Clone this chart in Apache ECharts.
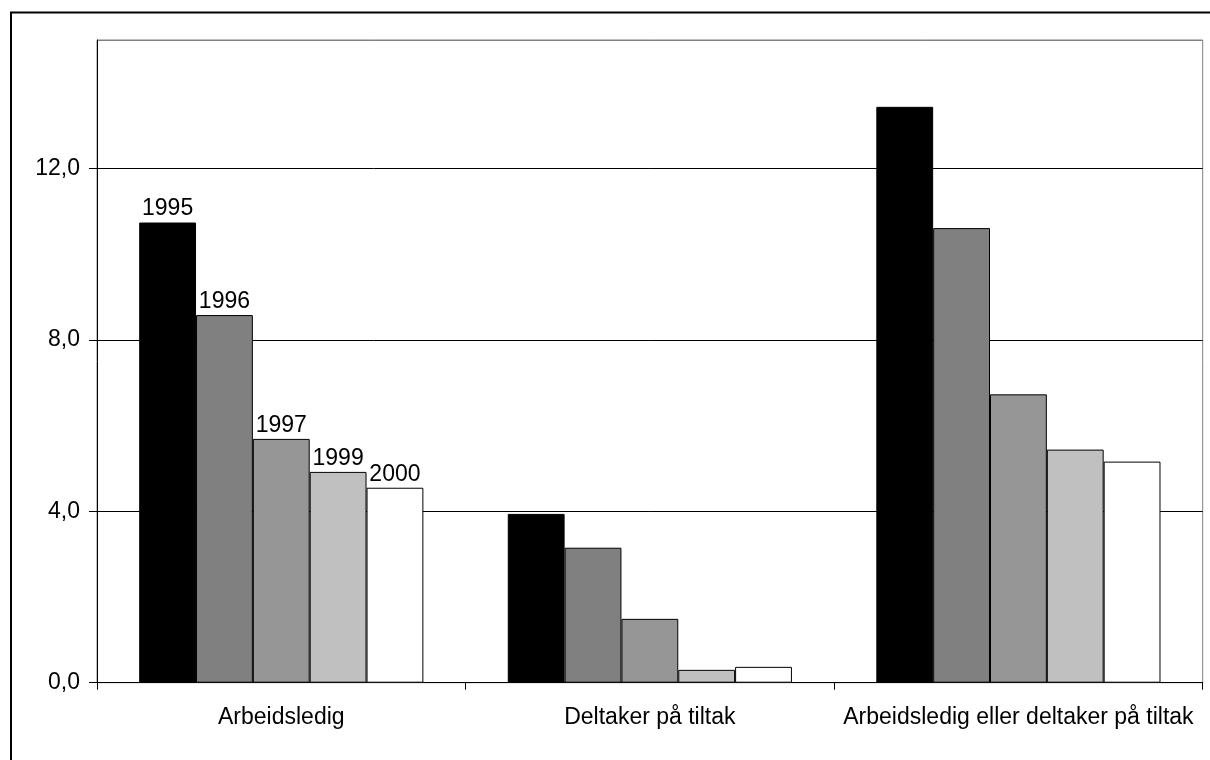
<!DOCTYPE html>
<html>
<head>
<meta charset="utf-8">
<script src="https://cdn.jsdelivr.net/npm/echarts@6/dist/echarts.min.js"></script>
<style>
  html, body { margin: 0; padding: 0; background: #fff; }
  #chart { width: 1210px; height: 760px; }
</style>
</head>
<body>
<div id="chart"></div>
<script>
// Categories along the x axis
const categories = ['Arbeidsledig', 'Deltaker på tiltak', 'Arbeidsledig eller deltaker på tiltak'];
// One series per year
const years = ['1995', '1996', '1997', '1999', '2000'];
const values1995 = [10.74, 3.94, 13.44];
const values1996 = [8.58, 3.15, 10.61];
const values1997 = [5.69, 1.49, 6.73];
const values1999 = [4.92, 0.30, 5.44];
const values2000 = [4.55, 0.37, 5.16];
const yTicks = [0, 4, 8, 12];

const seriesValues = [values1995, values1996, values1997, values1999, values2000];
const fills = ['#000000', '#808080', '#969696', '#c0c0c0', '#ffffff'];
const FONT = '"Liberation Sans", Arial, sans-serif';
const FONT_SIZE = 23;

const chart = echarts.init(document.getElementById('chart'), null, { renderer: 'canvas' });

const series = years.map((year, i) => ({
  name: year,
  type: 'bar',
  barGap: '0%',
  barCategoryGap: '22.9%',
  itemStyle: { color: fills[i], borderColor: '#000', borderWidth: 1 },
  label: {
    show: true,
    position: 'top',
    distance: 2,
    color: '#000',
    fontFamily: FONT,
    fontSize: FONT_SIZE,
    // only the first group carries the year labels
    formatter: p => (p.dataIndex === 0 ? year : '')
  },
  data: seriesValues[i]
}));

chart.setOption({
  animation: false,
  backgroundColor: '#fff',
  grid: {
    left: 97, top: 40, right: 7.3, bottom: 77.3,
    show: true, borderColor: '#808080', borderWidth: 1, backgroundColor: 'transparent'
  },
  graphic: [{
    type: 'rect',
    shape: { x: 11, y: 12.5, width: 1260, height: 800 },
    style: { fill: 'none', stroke: '#000', lineWidth: 2 },
    z: 100
  }],
  xAxis: {
    type: 'category',
    data: categories,
    axisLine: { lineStyle: { color: '#000', width: 1 } },
    axisTick: { show: true, interval: 0, length: 7, lineStyle: { color: '#000' } },
    axisLabel: {
      color: '#000', fontFamily: FONT, fontSize: FONT_SIZE, margin: 23,
      interval: 0, hideOverlap: false
    }
  },
  yAxis: {
    type: 'value',
    min: 0,
    max: 15,
    interval: 4,
    axisLine: { show: true, lineStyle: { color: '#000', width: 1 } },
    axisTick: { show: true, length: 8, lineStyle: { color: '#000' } },
    axisLabel: {
      color: '#000', fontFamily: FONT, fontSize: FONT_SIZE, margin: 17,
      showMaxLabel: false,
      formatter: v => (yTicks.indexOf(v) >= 0 ? v.toFixed(1).replace('.', ',') : '')
    },
    splitLine: { show: true, lineStyle: { color: ['#000', '#000', '#000', '#000', '#808080'], width: 1 } }
  },
  series: series
});
</script>
</body>
</html>
